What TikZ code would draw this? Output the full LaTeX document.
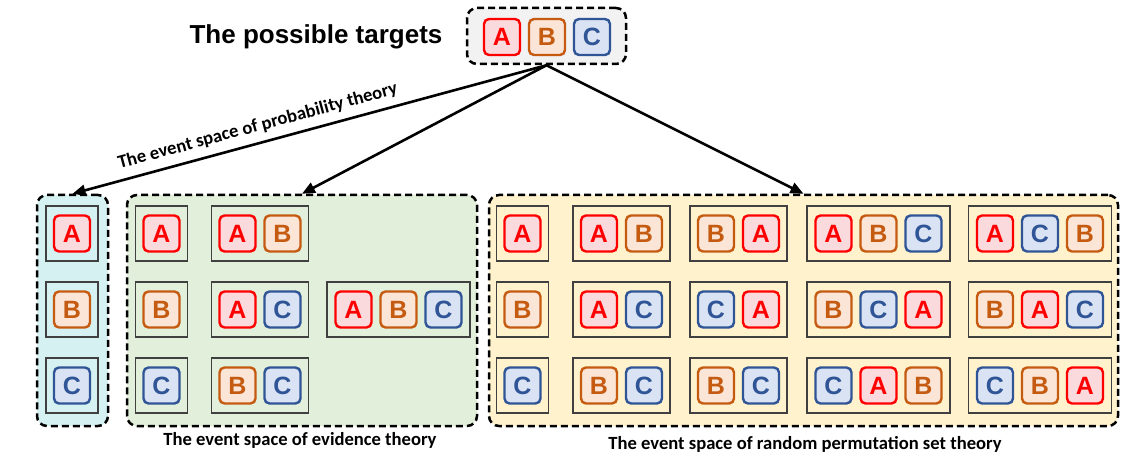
\documentclass[tikz,border=0pt]{standalone}
\usepackage{fontspec}
\setmainfont{Liberation Sans}
\newfontfamily\capfont{Carlito}
\usetikzlibrary{arrows.meta}
\definecolor{aR}{HTML}{FF0000}
\definecolor{aF}{HTML}{FADADD}
\definecolor{bR}{HTML}{C55A11}
\definecolor{bF}{HTML}{FBE5D6}
\definecolor{cR}{HTML}{2F5597}
\definecolor{cF}{HTML}{DAE3F3}
\definecolor{probBg}{HTML}{D6F1F1}
\definecolor{evBg}{HTML}{E2EFDA}
\definecolor{rpBg}{HTML}{FFF2CC}
\definecolor{topBg}{HTML}{F2F2F2}
\definecolor{boxGray}{HTML}{404040}
\tikzset{
  tile/.style={draw, line width=2.4pt, rounded corners=5pt, minimum width=36pt,
    minimum height=36pt, inner sep=0pt, font=\bfseries\fontsize{25}{25}\selectfont},
  tA/.style={tile, draw=aR, fill=aF, text=aR},
  tB/.style={tile, draw=bR, fill=bF, text=bR},
  tC/.style={tile, draw=cR, fill=cF, text=cR},
  ebox/.style={draw=boxGray, line width=1.1pt, minimum height=55pt, inner sep=0pt},
  spacebox/.style={draw=black, line width=2.5pt, dash pattern=on 7pt off 4pt,
    rounded corners=10pt, inner sep=0pt},
  link/.style={-{Triangle[length=13pt,width=11pt]}, line width=2.6pt},
  captext/.style={font=\capfont\bfseries\fontsize{18.6}{18.6}\selectfont}
}
\newcommand\one[4]{%
  \node[ebox,minimum width=52pt] (#1) at (#2,#3) {};
  \node[t#4] (#1a) at (#1.center) {#4};}
\newcommand\two[5]{%
  \node[ebox,minimum width=97pt] (#1) at (#2,#3) {};
  \node[t#4] (#1a) at ([xshift=-22.5pt]#1.center) {#4};
  \node[t#5] (#1b) at ([xshift=22.5pt]#1.center) {#5};}
\newcommand\three[6]{%
  \node[ebox,minimum width=143pt] (#1) at (#2,#3) {};
  \node[t#4] (#1a) at ([xshift=-45pt]#1.center) {#4};
  \node[t#5] (#1b) at (#1.center) {#5};
  \node[t#6] (#1c) at ([xshift=45pt]#1.center) {#6};}
\begin{document}
\begin{tikzpicture}[x=1pt,y=-1pt]
\useasboundingbox (0,0) rectangle (1128,457);
\fill[white] (0,0) rectangle (1128,457);

% top
\node[font=\bfseries\fontsize{26}{26}\selectfont] (title) at (316,37) {The possible targets};
\node[spacebox, fill=topBg, minimum width=159pt, minimum height=56pt] (top) at (546.5,36) {};
\node[tA] (tpa) at (502,37) {A};
\node[tB] (tpb) at (547,37) {B};
\node[tC] (tpc) at (592,37) {C};

% containers
\node[spacebox, fill=probBg, minimum width=71pt, minimum height=231pt] (prob) at (72.5,310.5) {};
\node[spacebox, fill=evBg, minimum width=350pt, minimum height=231pt] (evid) at (302,310.5) {};
\node[spacebox, fill=rpBg, minimum width=629pt, minimum height=231pt] (rpst) at (803.5,310.5) {};

% probability
\one{p1}{72}{233.5}{A}
\one{p2}{72}{309.5}{B}
\one{p3}{72}{385.5}{C}

% evidence
\one{e11}{161.5}{233.5}{A}
\one{e21}{161.5}{309.5}{B}
\one{e31}{161.5}{385.5}{C}
\two{e12}{260}{233.5}{A}{B}
\two{e22}{260}{309.5}{A}{C}
\two{e32}{260}{385.5}{B}{C}
\three{e23}{398.5}{309.5}{A}{B}{C}

% rpst
\one{r11}{522.5}{233.5}{A}
\one{r21}{522.5}{309.5}{B}
\one{r31}{522.5}{385.5}{C}
\two{r12}{621.5}{233.5}{A}{B}
\two{r22}{621.5}{309.5}{A}{C}
\two{r32}{621.5}{385.5}{B}{C}
\two{r13}{738.5}{233.5}{B}{A}
\two{r23}{738.5}{309.5}{C}{A}
\two{r33}{738.5}{385.5}{B}{C}
\three{r14}{878.5}{233.5}{A}{B}{C}
\three{r24}{878.5}{309.5}{B}{C}{A}
\three{r34}{878.5}{385.5}{C}{A}{B}
\three{r15}{1040}{233.5}{A}{C}{B}
\three{r25}{1040}{309.5}{B}{A}{C}
\three{r35}{1040}{385.5}{C}{B}{A}

% captions
\node[captext] (evcap) at (300,440) {The event space of evidence theory};
\node[captext] (rpcap) at (805,444) {The event space of random permutation set theory};

% arrows
\draw[link] (top.south) -- node[captext, sloped, above, pos=0.6, yshift=4pt] (probcap) {The event space of probability theory} (prob.north);
\draw[link] (top.south) -- (evid.north);
\draw[link] (top.south) -- (rpst.north);
\end{tikzpicture}
\end{document}
